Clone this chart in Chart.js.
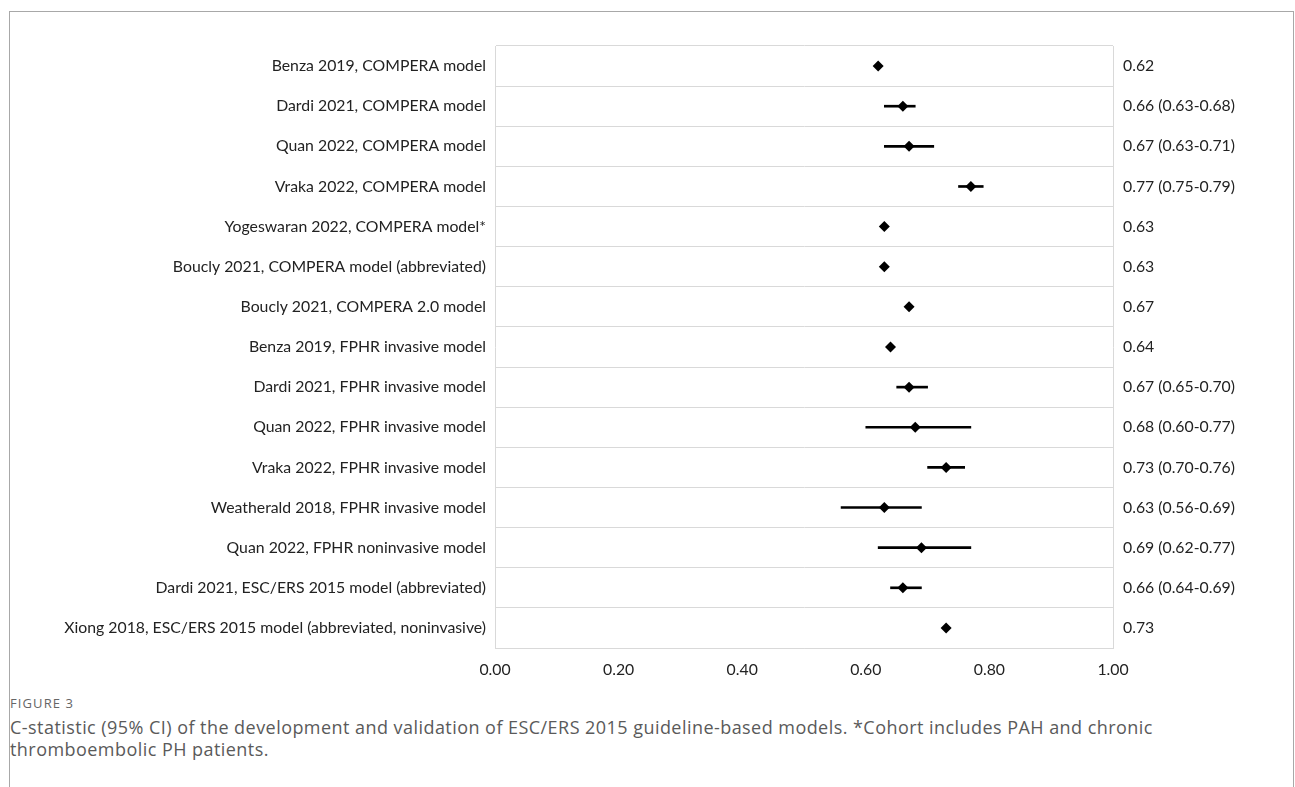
<!DOCTYPE html>
<html><head><meta charset="utf-8">
<script src="https://cdn.jsdelivr.net/npm/chart.js@4"></script>
<style>
html,body{margin:0;padding:0;background:#fff;}
body{width:1295px;height:787px;position:relative;overflow:hidden;}
#frame{position:absolute;left:9px;top:11px;width:1283px;height:800px;border:1px solid #a8a8a8;border-bottom:none;}
#wrap{position:absolute;left:0;top:0;width:1295px;height:690px;}
#fig{position:absolute;left:10px;top:694px;font:13px 'Open Sans',sans-serif;color:#666;letter-spacing:1.1px;}
#cap{position:absolute;left:10px;top:716px;width:1220px;font:18px/22px 'Open Sans',sans-serif;color:#5a5a5a;letter-spacing:0.45px;}
</style></head>
<body>
<div id="frame"></div>
<div id="wrap"><canvas id="c" width="1295" height="690"></canvas></div>
<div id="fig">FIGURE 3</div>
<div id="cap">C-statistic (95% CI) of the development and validation of ESC/ERS 2015 guideline-based models. *Cohort includes PAH and chronic thromboembolic PH patients.</div>
<script>
const categories = [
  "Benza 2019, COMPERA model",
  "Dardi 2021, COMPERA model",
  "Quan 2022, COMPERA model",
  "Vraka 2022, COMPERA model",
  "Yogeswaran 2022, COMPERA model*",
  "Boucly 2021, COMPERA model (abbreviated)",
  "Boucly 2021, COMPERA 2.0 model",
  "Benza 2019, FPHR invasive model",
  "Dardi 2021, FPHR invasive model",
  "Quan 2022, FPHR invasive model",
  "Vraka 2022, FPHR invasive model",
  "Weatherald 2018, FPHR invasive model",
  "Quan 2022, FPHR noninvasive model",
  "Dardi 2021, ESC/ERS 2015 model (abbreviated)",
  "Xiong 2018, ESC/ERS 2015 model (abbreviated, noninvasive)"
];
const estimates = [0.62, 0.66, 0.67, 0.77, 0.63, 0.63, 0.67, 0.64, 0.67, 0.68, 0.73, 0.63, 0.69, 0.66, 0.73];
const ciLower   = [null, 0.63, 0.63, 0.75, null, null, null, null, 0.65, 0.60, 0.70, 0.56, 0.62, 0.64, null];
const ciUpper   = [null, 0.68, 0.71, 0.79, null, null, null, null, 0.70, 0.77, 0.76, 0.69, 0.77, 0.69, null];
const rightLabels = [
  "0.62", "0.66 (0.63-0.68)", "0.67 (0.63-0.71)", "0.77 (0.75-0.79)", "0.63", "0.63", "0.67", "0.64",
  "0.67 (0.65-0.70)", "0.68 (0.60-0.77)", "0.73 (0.70-0.76)", "0.63 (0.56-0.69)", "0.69 (0.62-0.77)",
  "0.66 (0.64-0.69)", "0.73"
];
const xTicks = [0, 0.2, 0.4, 0.6, 0.8, 1.0];

const gridCol = '#d9d9d9';
const labelFont = {family: 'Lato', size: 15.8};

new Chart(document.getElementById('c'), {
  type: 'bar',
  data: {
    labels: categories,
    datasets: [
      {
        type: 'bar',
        data: categories.map((c, i) => ciLower[i] == null ? null : [ciLower[i], ciUpper[i]]),
        backgroundColor: '#000',
        borderWidth: 0,
        barThickness: 2,
        borderSkipped: false,
        xAxisID: 'x', yAxisID: 'y'
      },
      {
        type: 'scatter',
        indexAxis: 'y',
        data: categories.map((c, i) => ({x: estimates[i], y: c})),
        pointStyle: 'rectRot',
        pointRadius: 5.5,
        backgroundColor: '#000',
        borderColor: '#000',
        borderWidth: 0,
        showLine: false,
        xAxisID: 'x', yAxisID: 'y'
      }
    ]
  },
  options: {
    indexAxis: 'y',
    responsive: false,
    animation: false,
    plugins: {legend: {display: false}, tooltip: {enabled: false}},
    layout: {padding: {top: 46, left: 0, right: 0, bottom: 0}},
    scales: {
      x: {
        type: 'linear', min: 0, max: 1,
        afterBuildTicks: s => { s.ticks = xTicks.map(v => ({value: v})); },
        afterFit: s => { s.height = 42; },
        ticks: {callback: v => Number(v).toFixed(2), font: labelFont, color: '#222', padding: 12, maxRotation: 0},
        grid: {display: false, drawTicks: false},
        border: {display: true, color: gridCol}
      },
      y: {
        type: 'category', labels: categories, offset: true,
        afterFit: s => { s.width = 495; },
        ticks: {font: labelFont, color: '#222', padding: 9},
        grid: {offset: true, color: gridCol, drawTicks: false},
        border: {display: true, color: gridCol}
      },
      y2: {
        type: 'category', position: 'right', labels: rightLabels, offset: true,
        afterFit: s => { s.width = 182; },
        ticks: {font: labelFont, color: '#222', padding: 10},
        grid: {display: false, drawTicks: false},
        border: {display: true, color: gridCol}
      }
    }
  }
});
</script>
</body></html>
